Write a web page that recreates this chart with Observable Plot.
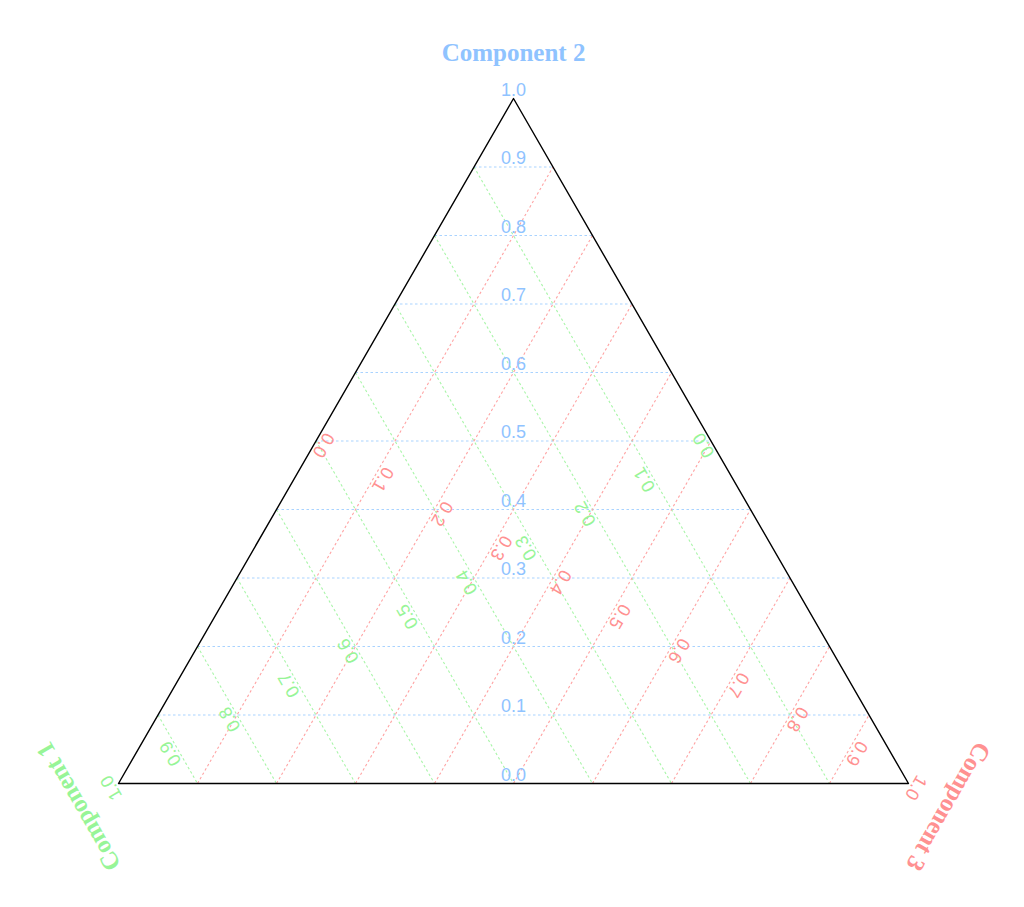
<!DOCTYPE html>
<html>
<head>
<meta charset="utf-8">
<script src="https://cdn.jsdelivr.net/npm/d3@7"></script>
<script src="https://cdn.jsdelivr.net/npm/@observablehq/plot@0.6"></script>
<style>
  body { margin: 0; background: #ffffff; }
</style>
</head>
<body>
<div id="chart"></div>
<script>
// ---- data ----
const tickValues = [0, 0.1, 0.2, 0.3, 0.4, 0.5, 0.6, 0.7, 0.8, 0.9, 1.0];
const tickLabels = ["0.0", "0.1", "0.2", "0.3", "0.4", "0.5", "0.6", "0.7", "0.8", "0.9", "1.0"];
const gridLevels = [0.1, 0.2, 0.3, 0.4, 0.5, 0.6, 0.7, 0.8, 0.9];
const componentNames = ["Component 1", "Component 2", "Component 3"];
const componentColors = ["#97f597", "#8fc3ff", "#ff9191"];
const gridColors = ["#a9f5a9", "#a9d3ff", "#ffa3a3"];
const componentRotation = [240, 0, 120];

// ---- ternary -> cartesian (c1: bottom-left, c2: top, c3: bottom-right) ----
const tx = ([c1, c2, c3]) => c3 + c2 / 2;
const ty = ([c1, c2, c3]) => c2;

// grid line endpoints for each component at a level k
function gridEnds(axis, k) {
  if (axis === 0) return [[k, 1 - k, 0], [k, 0, 1 - k]];
  if (axis === 1) return [[1 - k, k, 0], [0, k, 1 - k]];
  return [[1 - k, 0, k], [0, 1 - k, k]];
}
const gridRows = [];
[0, 1, 2].forEach(axis => gridLevels.forEach(k => {
  const [a, b] = gridEnds(axis, k);
  gridRows.push({axis, x1: tx(a), y1: ty(a), x2: tx(b), y2: ty(b)});
}));

// tick labels along the medians
function medianPoint(axis, t) {
  const r = (1 - t) / 2;
  const p = [r, r, r];
  p[axis] = t;
  return p;
}
const vertices = [[1, 0, 0], [0, 1, 0], [0, 0, 1], [1, 0, 0]];

// rotate a screen offset (dx, dy) by deg clockwise
function rot([dx, dy], deg) {
  const a = deg * Math.PI / 180;
  return [dx * Math.cos(a) - dy * Math.sin(a), dx * Math.sin(a) + dy * Math.cos(a)];
}

const marks = [];
[0, 1, 2].forEach(axis => {
  marks.push(Plot.link(gridRows.filter(d => d.axis === axis), {
    x1: "x1", y1: "y1", x2: "x2", y2: "y2",
    stroke: gridColors[axis], strokeWidth: 1.1, strokeDasharray: "2.5,2.5"
  }));
});
marks.push(Plot.line(vertices, {x: tx, y: ty, stroke: "#000", strokeWidth: 1.4}));

[0, 1, 2].forEach(axis => {
  const r = componentRotation[axis];
  const [ldx, ldy] = rot([0, -8.5], r);
  const labelRows = tickValues.map((t, i) => {
    const p = medianPoint(axis, t);
    return {x: tx(p), y: ty(p), label: tickLabels[i]};
  });
  marks.push(Plot.text(labelRows, {
    x: "x", y: "y", text: "label", rotate: r, dx: ldx, dy: ldy,
    fill: componentColors[axis], fontSize: 18,
    fontFamily: "'Liberation Sans', Arial, sans-serif"
  }));
  const v = [0, 0, 0]; v[axis] = 1;
  const [tdx, tdy] = rot([0, -46], r);
  marks.push(Plot.text([{x: tx(v), y: ty(v), name: componentNames[axis]}], {
    x: "x", y: "y", text: "name", rotate: r, dx: tdx, dy: tdy,
    fill: componentColors[axis], fontSize: 25, fontWeight: "bold",
    fontFamily: "'Liberation Serif', 'Times New Roman', serif"
  }));
});

const chart = Plot.plot({
  width: 1024,
  height: 907,
  marginLeft: 118,
  marginRight: 116,
  marginTop: 98,
  marginBottom: 124,
  x: {domain: [0, 1], axis: null},
  y: {domain: [0, 1], axis: null},
  style: {background: "#ffffff", overflow: "visible"},
  marks
});
document.getElementById("chart").appendChild(chart);
</script>
</body>
</html>
